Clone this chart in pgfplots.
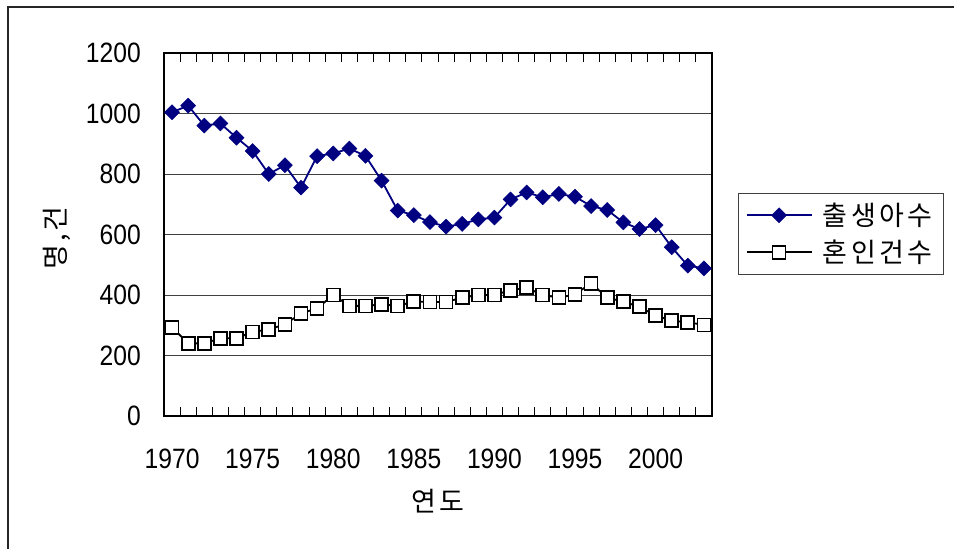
\documentclass[border=0pt]{standalone}
\usepackage{fontspec}
\usepackage{pgfplots}
\pgfplotsset{compat=1.18}
\newfontfamily\kr{Noto Sans CJK KR}
\newfontfamily\krl[LetterSpace=13]{Noto Sans CJK KR}
\newfontfamily\numf[FakeStretch=0.88]{Liberation Sans}
\definecolor{navy}{RGB}{0,0,128}
\begin{document}
\begin{tikzpicture}
\path[use as bounding box] (0bp,0bp) rectangle (954bp,549bp);
\draw[line width=1.3bp, black!85] (8bp,-20bp) -- (8bp,542bp) -- (990bp,542bp);
\begin{axis}[
  at={(164bp,133bp)}, anchor=south west,
  width=548bp, height=363bp, scale only axis,
  xmin=1969.5, xmax=2003.5, ymin=0, ymax=1200,
  xtick={1970,1975,1980,1985,1990,1995,2000},
  xticklabels={1970,1975,1980,1985,1990,1995,2000},
  ytick={0,200,400,600,800,1000,1200},
  yticklabels={0,200,400,600,800,1000,1200},
  minor xtick={1970.5,1971.5,1972.5,1973.5,1974.5,1975.5,1976.5,1977.5,1978.5,1979.5,1980.5,1981.5,1982.5,1983.5,1984.5,1985.5,1986.5,1987.5,1988.5,1989.5,1990.5,1991.5,1992.5,1993.5,1994.5,1995.5,1996.5,1997.5,1998.5,1999.5,2000.5,2001.5,2002.5},
  tick align=inside, major tick length=0pt, minor tick length=9bp,
  minor tick style={line width=1bp, black},
  ymajorgrids, grid style={black!75, line width=0.9bp},
  axis line style={line width=2bp, black},
  ticklabel style={font=\numf\fontsize{28bp}{30bp}\selectfont, inner sep=0pt},
  xticklabel style={anchor=north, yshift=-33bp},
  yticklabel style={anchor=east, xshift=-23bp},
  every axis x label/.style={at={(axis description cs:0.5,-0.234)}, anchor=center},
  every axis y label/.style={at={(axis description cs:-0.196,0.49)}, rotate=90, anchor=center},
  label style={font=\kr\fontsize{27bp}{30bp}\selectfont},
  xlabel={연\hspace{4bp}도},
  ylabel={명\hspace{3bp},\hspace{3bp}건},
  legend style={at={(axis description cs:1.0474,0.614)}, anchor=north west,
    draw=black!75, font=\krl\fontsize{27bp}{30bp}\selectfont,
    nodes={inner sep=2bp},
    inner xsep=8bp, inner ysep=8bp, row sep=9bp, column sep=8bp, cells={anchor=west}},
  legend image code/.code={\draw[line width=1.8bp, mark repeat=2,mark phase=2] plot coordinates {(0bp,0bp)(32bp,0bp)(65bp,0bp)};},
]
\addplot[navy, line width=1.8bp, mark=square*, mark size=5.3bp, mark options={rotate=45, fill=navy, draw=navy, line width=0.5bp}] coordinates {
(1970,1004)(1971,1026)(1972,960)(1973,967)(1974,920)(1975,876)(1976,800)(1977,829)(1978,755)(1979,859)
(1980,868)(1981,884)(1982,860)(1983,778)(1984,679)(1985,664)(1986,641)(1987,626)(1988,635)(1989,650)
(1990,656)(1991,716)(1992,739)(1993,723)(1994,734)(1995,725)(1996,694)(1997,681)(1998,640)(1999,618)
(2000,631)(2001,558)(2002,497)(2003,488)};
\addlegendentry{출생아수}
\addplot[black, line width=1.8bp, mark=square*, mark size=6.5bp, mark options={fill=white, draw=black, line width=1.7bp}] coordinates {
(1970,293)(1971,240)(1972,240)(1973,257)(1974,257)(1975,278)(1976,286)(1977,303)(1978,339)(1979,356)
(1980,400)(1981,364)(1982,364)(1983,369)(1984,364)(1985,378)(1986,377)(1987,377)(1988,391)(1989,400)
(1990,400)(1991,416)(1992,424)(1993,400)(1994,391)(1995,402)(1996,439)(1997,391)(1998,378)(1999,361)
(2000,332)(2001,315)(2002,310)(2003,301)};
\addlegendentry{혼인건수}
\end{axis}
\end{tikzpicture}
\end{document}
